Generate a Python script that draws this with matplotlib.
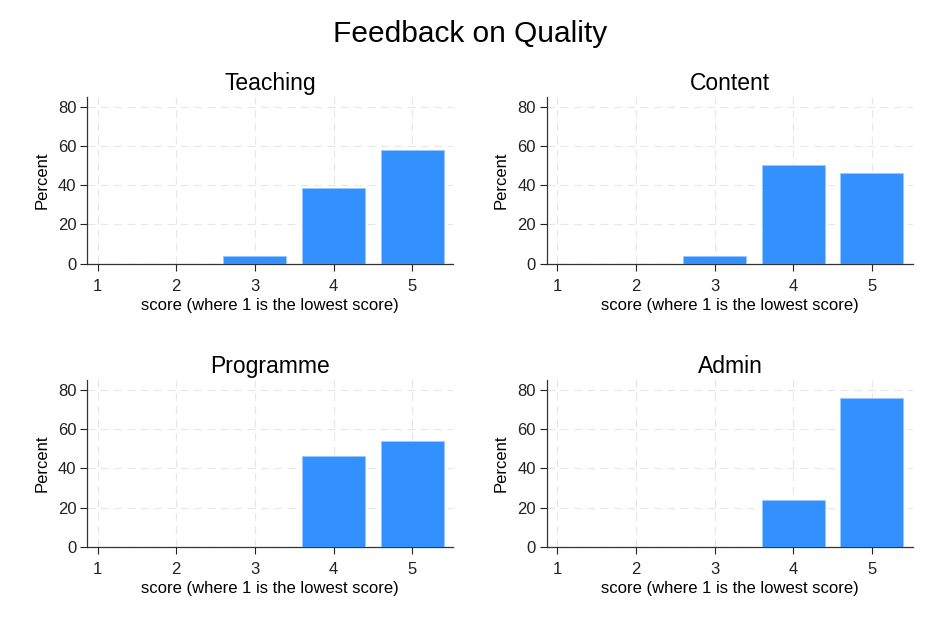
import numpy as np
import matplotlib
matplotlib.use("Agg")
import matplotlib.pyplot as plt

plt.rcParams['font.family'] = ['Liberation Sans', 'DejaVu Sans']

#scores on the x-axis and percent of responses for each panel
scores = [1, 2, 3, 4, 5]
panel_titles = ["Teaching", "Content", "Programme", "Admin"]
teaching = [0, 0, 3.8, 38.5, 57.7]
content = [0, 0, 3.8, 50.0, 46.2]
programme = [0, 0, 0, 46.2, 53.8]
admin = [0, 0, 0, 24.0, 76.0]
yticks = [0, 20, 40, 60, 80]

series = [teaching, content, programme, admin]
bar_color = '#3390ff'

fig = plt.figure(figsize=(9.4, 6.28), dpi=100)
fig.suptitle("Feedback on Quality", fontsize=21.5, y=0.968)

#axes boxes [left, bottom, width, height] in figure fractions
boxes = [[0.093, 0.580, 0.389, 0.266],
         [0.582, 0.580, 0.389, 0.266],
         [0.093, 0.129, 0.389, 0.266],
         [0.582, 0.129, 0.389, 0.266]]

for title, values, box in zip(panel_titles, series, boxes):
    ax = fig.add_axes(box)
    ax.bar(scores, values, width=0.8, color=bar_color, edgecolor='#9cc8ff',
           linewidth=0.6, zorder=3)
    ax.set_xlim(0.87, 5.52)
    ax.set_ylim(0, 85)
    ax.set_xticks(scores)
    ax.set_yticks(yticks)
    ax.set_title(title, fontsize=16.5, pad=5)
    ax.set_xlabel("score (where 1 is the lowest score)", fontsize=12, labelpad=3)
    ax.set_ylabel("Percent", fontsize=12, labelpad=6)
    ax.tick_params(labelsize=12, length=5, width=0.8, pad=3, colors='#222222')
    ax.tick_params(axis='x', pad=6)
    ax.grid(True, color='#e6e6e6', linestyle=(0, (7, 5)), linewidth=0.8, zorder=0)
    ax.spines['top'].set_visible(False)
    ax.spines['right'].set_visible(False)
    for s in ['left', 'bottom']:
        ax.spines[s].set_color('#333333')
        ax.spines[s].set_linewidth(0.9)

fig.savefig("out.png", dpi=100)
